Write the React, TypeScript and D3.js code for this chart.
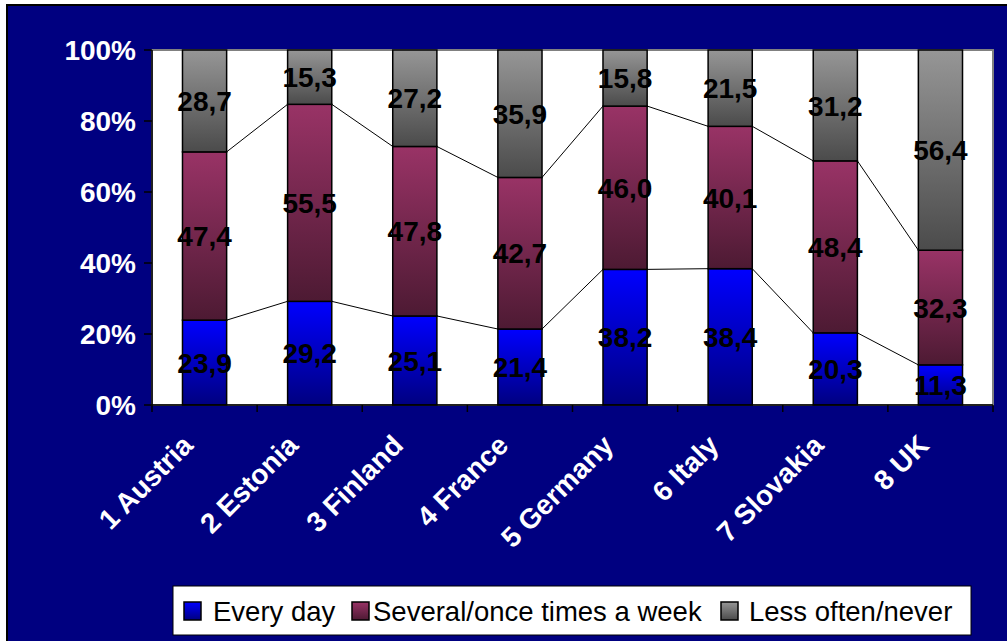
import React from "react";
import * as d3 from "d3";

const categories = ["1 Austria", "2 Estonia", "3 Finland", "4 France", "5 Germany", "6 Italy", "7 Slovakia", "8 UK"];
const everyDay = [23.9, 29.2, 25.1, 21.4, 38.2, 38.4, 20.3, 11.3];
const weekly = [47.4, 55.5, 47.8, 42.7, 46.0, 40.1, 48.4, 32.3];
const rarely = [28.7, 15.3, 27.2, 35.9, 15.8, 21.5, 31.2, 56.4];
const seriesNames = ["Every day", "Several/once times a week", "Less often/never"];
const yTicks = [0, 0.2, 0.4, 0.6, 0.8, 1.0];

const W = 1007;
const H = 641;
const plot = { left: 152, top: 50, right: 993, bottom: 405 };
const gradients = [
  { id: "g-day", top: "#0000ff", bottom: "#000080" },
  { id: "g-week", top: "#993366", bottom: "#4d1a33" },
  { id: "g-rare", top: "#969696", bottom: "#4b4b4b" },
];
const font = "Arial, 'Liberation Sans', Helvetica, sans-serif";
const fmt = (v: number) => v.toFixed(1).replace(".", ",");

export default function App() {
  const x = d3.scaleBand<string>().domain(categories).range([plot.left, plot.right]);
  const y = d3.scaleLinear().domain([0, 1]).range([plot.bottom, plot.top]);
  const barW = x.bandwidth() * 0.42;

  const rows = categories.map((c, i) => {
    const vals = [everyDay[i], weekly[i], rarely[i]];
    const total = d3.sum(vals);
    const cum: number[] = [];
    let acc = 0;
    vals.forEach((v) => {
      cum.push(acc);
      acc += v / total;
    });
    return { c, vals, total, cum };
  });

  const barX = (c: string) => (x(c) as number) + (x.bandwidth() - barW) / 2;

  // series lines joining the tops of the lower two segments
  const seriesLines: { x1: number; y1: number; x2: number; y2: number }[] = [];
  for (let i = 0; i < rows.length - 1; i++) {
    for (let s = 0; s < 2; s++) {
      const a = rows[i];
      const b = rows[i + 1];
      const ya = a.cum[s] + a.vals[s] / a.total;
      const yb = b.cum[s] + b.vals[s] / b.total;
      seriesLines.push({ x1: barX(a.c) + barW, y1: y(ya), x2: barX(b.c), y2: y(yb) });
    }
  }

  const legendItems = [
    { x: 184, tx: 213 },
    { x: 352, tx: 373 },
    { x: 721, tx: 749 },
  ];

  return (
    <svg width={W} height={H} style={{ position: "absolute", left: 0, top: 0, background: "#ffffff" }}>
      <defs>
        {gradients.map((g) => (
          <linearGradient key={g.id} id={g.id} x1="0" y1="0" x2="0" y2="1">
            <stop offset="0" stopColor={g.top} />
            <stop offset="1" stopColor={g.bottom} />
          </linearGradient>
        ))}
      </defs>
      <rect x={7} y={5} width={1010} height={650} fill="#000080" stroke="#000" strokeWidth={2} />
      <rect x={plot.left} y={plot.top} width={plot.right - plot.left} height={plot.bottom - plot.top} fill="#fff" stroke="#808080" strokeWidth={2} />

      {rows.map((r) =>
        r.vals.map((v, s) => {
          const y0 = y(r.cum[s]);
          const y1 = y(r.cum[s] + v / r.total);
          return (
            <rect key={r.c + s} x={barX(r.c)} y={y1} width={barW} height={y0 - y1} fill={`url(#${gradients[s].id})`} stroke="#000" strokeWidth={1.5} />
          );
        })
      )}

      {seriesLines.map((l, i) => (
        <line key={i} x1={l.x1} y1={l.y1} x2={l.x2} y2={l.y2} stroke="#000" strokeWidth={1} />
      ))}

      {rows.map((r) =>
        r.vals.map((v, s) => {
          const mid = y(r.cum[s] + v / r.total / 2);
          return (
            <text key={"l" + r.c + s} x={(x(r.c) as number) + x.bandwidth() / 2} y={mid} dy="0.36em" textAnchor="middle" fontFamily={font} fontWeight="bold" fontSize={28} fill="#000">
              {fmt(v)}
            </text>
          );
        })
      )}

      {/* axes */}
      <line x1={plot.left} y1={plot.top} x2={plot.left} y2={plot.bottom} stroke="#000" strokeWidth={1.5} />
      <line x1={plot.left} y1={plot.bottom} x2={plot.right} y2={plot.bottom} stroke="#000" strokeWidth={1.5} />
      {yTicks.map((t) => (
        <g key={t}>
          <line x1={plot.left - 8} x2={plot.left} y1={y(t)} y2={y(t)} stroke="#000" strokeWidth={1.5} />
          <text x={136} y={y(t)} dy="0.36em" textAnchor="end" fontFamily={font} fontWeight="bold" fontSize={28} fill="#fff">
            {`${Math.round(t * 100)}%`}
          </text>
        </g>
      ))}
      {categories.concat([""]).map((c, i) => {
        const tx = plot.left + i * x.step();
        return <line key={"t" + i} x1={tx} x2={tx} y1={plot.bottom} y2={plot.bottom + 7} stroke="#000" strokeWidth={1.5} />;
      })}
      {categories.map((c) => {
        const cx = (x(c) as number) + x.bandwidth() / 2 - 10;
        const cy = 447;
        return (
          <text key={"x" + c} x={cx} y={cy} transform={`rotate(-45 ${cx} ${cy})`} textAnchor="end" fontFamily={font} fontWeight="bold" fontSize={28} fill="#fff">
            {c}
          </text>
        );
      })}

      {/* legend */}
      <rect x={173} y={586} width={798} height={49} fill="#fff" stroke="#000" strokeWidth={1} />
      {legendItems.map((it, i) => (
        <g key={"lg" + i}>
          <rect x={it.x} y={602} width={17} height={18} fill={`url(#${gradients[i].id})`} stroke="#000" strokeWidth={1.5} />
          <text x={it.tx} y={621} fontFamily={font} fontSize={27.5} fill="#000">
            {seriesNames[i]}
          </text>
        </g>
      ))}
    </svg>
  );
}
